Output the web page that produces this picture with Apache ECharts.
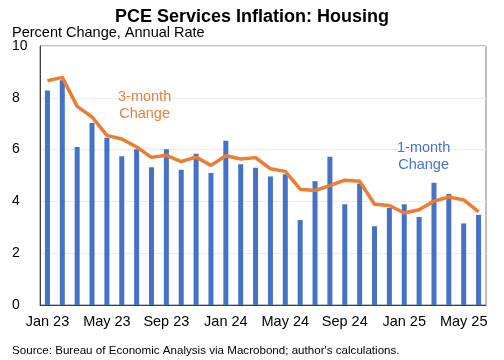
<!DOCTYPE html>
<html><head><meta charset="utf-8">
<script src="https://cdn.jsdelivr.net/npm/echarts@6/dist/echarts.min.js"></script>
<style>html,body{margin:0;padding:0;background:#fff}#c{width:504px;height:360px}</style>
</head><body><div id="c"></div>
<script>
const months = ['Jan 23','Feb 23','Mar 23','Apr 23','May 23','Jun 23','Jul 23','Aug 23','Sep 23','Oct 23','Nov 23','Dec 23',
  'Jan 24','Feb 24','Mar 24','Apr 24','May 24','Jun 24','Jul 24','Aug 24','Sep 24','Oct 24','Nov 24','Dec 24',
  'Jan 25','Feb 25','Mar 25','Apr 25','May 25','Jun 25'];
const oneMonth = [8.28,8.68,6.10,7.03,6.46,5.74,6.01,5.32,6.01,5.22,5.84,5.10,
  6.34,5.43,5.30,4.96,5.05,3.28,4.78,5.72,3.89,4.69,3.04,3.75,
  3.89,3.40,4.72,4.29,3.15,3.48];
const threeMonth = [8.66,8.79,7.67,7.26,6.55,6.41,6.10,5.70,5.78,5.54,5.71,5.39,
  5.76,5.64,5.69,5.26,5.16,4.47,4.42,4.61,4.82,4.78,3.89,3.84,
  3.55,3.68,4.01,4.17,4.06,3.60];
const yTicks = [0,2,4,6,8,10];
const FONT = 'Liberation Sans, Arial, sans-serif';
const chart = echarts.init(document.getElementById('c'), null, {renderer:'canvas'});
chart.setOption({
  animation:false,
  backgroundColor:'#fff',
  title:[
    {text:'PCE Services Inflation: Housing', left:'center', top:3, textStyle:{fontFamily:FONT,fontSize:18,fontWeight:'bold',color:'#000'}},
    {text:'Percent Change, Annual Rate', left:7, top:20, textStyle:{fontFamily:FONT,fontSize:14.5,fontWeight:'normal',color:'#000'}},
    {text:"Source: Bureau of Economic Analysis via Macrobond; author's calculations.", left:7, top:340, textStyle:{fontFamily:FONT,fontSize:11.6,fontWeight:'normal',color:'#000'}}
  ],
  grid:{left:40,right:18,top:46,bottom:55,show:true,borderColor:'#7f7f7f',borderWidth:1},
  xAxis:{type:'category',data:months,boundaryGap:true,
    axisLine:{lineStyle:{color:'#404040',width:1}},
    axisTick:{inside:true,length:4,interval:3,lineStyle:{color:'#404040'}},
    axisLabel:{interval:3,margin:9,fontFamily:FONT,fontSize:14.5,color:'#000'}},
  yAxis:{type:'value',min:0,max:10,interval:2,
    axisLine:{show:true,lineStyle:{color:'#404040'}},
    axisTick:{show:false},
    splitLine:{lineStyle:{color:'#ececec'}},
    axisLabel:{align:'left',margin:28,fontFamily:FONT,fontSize:14,color:'#000',
      formatter:(v)=>yTicks.includes(v)?String(v):''}},
  series:[
    {name:'1-month Change',type:'bar',data:oneMonth,barWidth:5,itemStyle:{color:'#4472C4'},z:2},
    {name:'3-month Change',type:'line',data:threeMonth,symbol:'none',lineStyle:{color:'#ED7D31',width:3.5},z:3}
  ],
  graphic:[
    {type:'text',left:118,top:88,z:10,style:{text:'3-month\nChange',fill:'#E8803A',font:'14.5px '+FONT,textAlign:'center',lineHeight:17}},
    {type:'text',left:397,top:139,z:10,style:{text:'1-month\nChange',fill:'#4A74C0',font:'14.5px '+FONT,textAlign:'center',lineHeight:17}}
  ]
});
</script></body></html>
